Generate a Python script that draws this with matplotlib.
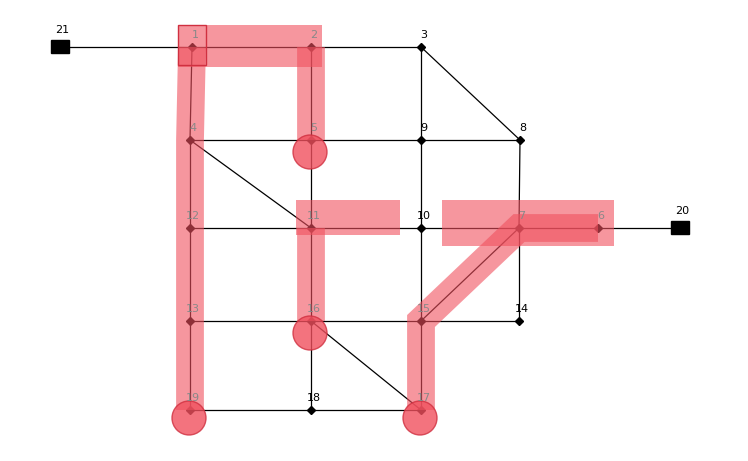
import matplotlib.pyplot as plt
from matplotlib.patches import Rectangle, Circle

names = ['1','2','3','4','5','6','7','8','9','10','11','12','13','14','15','16','17','18','19','20','21']
xs = [192,311,421,190,311,598,519,520,421,421,311,190,190,519,421,311,421,311,190,680,60]
ys = [47,47,47,140,140,228,228,140,140,228,228,228,321,321,321,321,410,410,410,228,47]
edges = [('21','1'),('1','2'),('2','3'),('3','8'),('3','9'),('9','10'),('4','5'),('5','9'),('9','8'),
         ('1','4'),('4','12'),('12','13'),('13','19'),('2','5'),('5','11'),('4','11'),
         ('12','11'),('11','10'),('10','7'),('7','6'),('6','20'),('8','7'),('7','15'),('7','14'),
         ('10','15'),('11','16'),('13','16'),('16','15'),('15','14'),('16','18'),('16','17'),
         ('19','18'),('18','17'),('15','17')]
tanks = ['21','20']
highlight_paths = [['1','4','12','13','19'], ['2','5'], ['11','16'], ['17','15','7','6']]
end_circles = ['5','16','19','17']
grey_labels = ['1','2','4','5','6','7','11','12','13','15','16','17','19']

pos = {n: (x, y) for n, x, y in zip(names, xs, ys)}
fig = plt.figure(figsize=(7.48, 4.61), dpi=100)
ax = fig.add_axes([0, 0, 1, 1])
ax.set_xlim(0, 748); ax.set_ylim(461, 0); ax.axis('off')

for a, b in edges:
    (x1, y1), (x2, y2) = pos[a], pos[b]
    ax.plot([x1, x2], [y1, y2], color='black', lw=0.9, zorder=1)
for n in names:
    x, y = pos[n]
    if n in tanks:
        ax.add_patch(Rectangle((x - 9, y - 7), 18, 13, color='black', zorder=2))
        ax.text(x + 2, y - 12, n, fontsize=8, ha='center', va='bottom', zorder=5)
    else:
        ax.plot(x, y, 'D', color='black', ms=4, zorder=2)
        ax.text(x + 3, y - 7, n, fontsize=8, ha='center', va='bottom',
                color='#888888' if n in grey_labels else 'black', zorder=5)

red = '#f0505e'; edge = '#d03040'; al = 0.6
def hl(px, py, w):
    ax.plot(px, py, color=red, alpha=al, lw=w, solid_capstyle='butt', solid_joinstyle='miter', zorder=3)

for path in highlight_paths:
    hl([pos[n][0] for n in path], [pos[n][1] for n in path], 20)
# top band 1-2
ax.add_patch(Rectangle((178, 25), 144, 42, color=red, alpha=al, zorder=3, lw=0))
ax.add_patch(Rectangle((178, 25), 28, 40, fill=False, ec=edge, lw=1, zorder=4))
ax.add_patch(Rectangle((296, 200), 104, 35, color=red, alpha=al, zorder=3, lw=0))
ax.add_patch(Rectangle((442, 200), 172, 46, color=red, alpha=al, zorder=3, lw=0))
for n in end_circles:
    x, y = pos[n]
    cy = y + 12 if n in ('5', '16') else y + 8
    ax.add_patch(Circle((x - 1, cy), 17, color=red, alpha=0.8, ec=edge, zorder=4))

fig.savefig('out.png', dpi=100)
